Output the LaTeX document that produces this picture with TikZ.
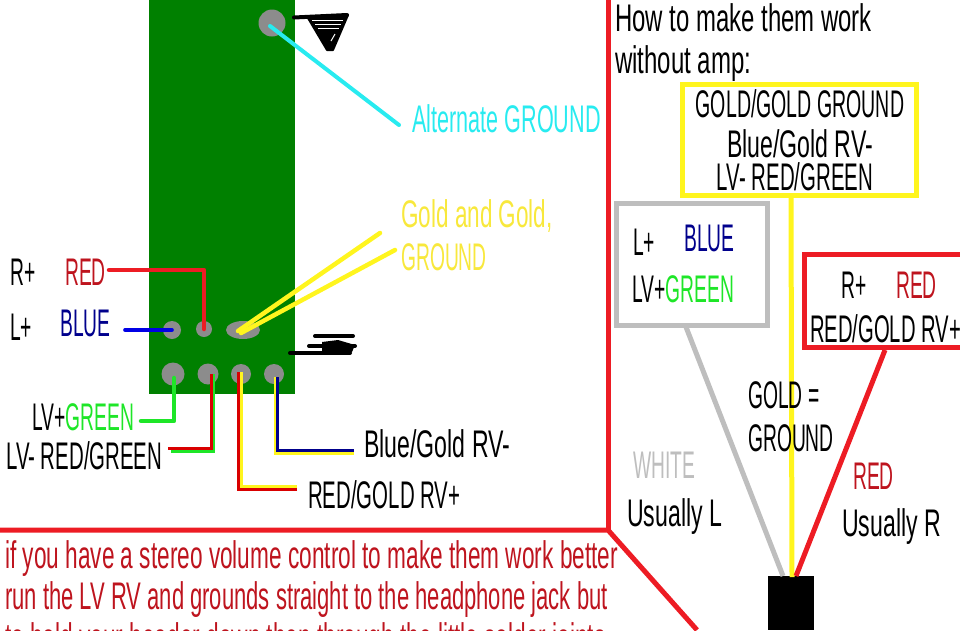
\documentclass[tikz,border=0pt]{standalone}
\usepackage{graphicx}
\usepackage{fontspec}
\usetikzlibrary{shapes.geometric}
\setmainfont[FakeStretch=0.5]{Liberation Sans}
\newfontfamily\lowf[FakeStretch=0.6]{Liberation Sans}
\newcommand{\sx}[2]{\scalebox{#1}[1]{#2}}
\definecolor{pcb}{RGB}{0,128,0}
\definecolor{padg}{RGB}{140,140,140}
\definecolor{rd}{RGB}{237,28,36}
\definecolor{dred}{RGB}{190,20,30}
\definecolor{yel}{RGB}{255,245,30}
\definecolor{gold}{RGB}{248,232,60}
\definecolor{grn}{RGB}{30,230,40}
\definecolor{blu}{RGB}{0,0,140}
\definecolor{lgray}{RGB}{190,190,190}
\definecolor{cya}{RGB}{40,235,240}
\tikzset{x=1pt,y=-1pt,
 lab/.style={anchor=base west,inner sep=0pt,font=\fontsize{38.5}{40}\selectfont},
 low/.style={anchor=base west,inner sep=0pt,font=\fontsize{38.5}{40}\selectfont\lowf},
 pad/.style={circle,fill=padg,inner sep=0pt},
 thick wire/.style={line width=4.5pt,line join=round,line cap=round},
 frame/.style={line width=5pt,line join=miter}}
\begin{document}
\begin{tikzpicture}
\useasboundingbox (0,0) rectangle (960,630);
\clip (0,0) rectangle (960,630);
\fill[pcb] (149,0) rectangle (295,394);
% pads
\node[pad,minimum size=27pt] (pgnd) at (272,23) {};
\node[pad,minimum size=18pt] (pl) at (172,330) {};
\node[pad,minimum size=16pt] (pr) at (204,329) {};
\node[fill=padg,ellipse,inner sep=0pt,minimum width=34pt,minimum height=18pt] (pg) at (243,330) {};
\node[pad,minimum size=23pt] (p1) at (173,374) {};
\node[pad,minimum size=21pt] (p2) at (208,374) {};
\node[pad,minimum size=20pt] (p3) at (241,374) {};
\node[pad,minimum size=20pt] (p4) at (274,374) {};
% ground symbol top
\draw[black,line width=4pt,line cap=round] (294,17.5) -- (347,15);
\fill[black,line join=round,draw=black,line width=2pt] (308,18) -- (348,15) -- (333,50) -- (327,50) -- cycle;
\foreach \yy/\a/\b in {20/312/343,24/315/341,28/318/339}
  \draw[white,line width=1pt] (\a,\yy) -- (\b,\yy);
\draw[white,line width=1pt] (335,34) -- (331,41);
% ground symbol side
\draw[black,line width=4pt,line cap=round] (315,336) -- (353,336);
\draw[black,line width=4pt,line cap=round] (309,346) -- (355,346);
\draw[black,line width=4pt,line cap=round] (290,353) -- (350,353);
\fill[black] (322,342) -- (338,340) -- (355,345) -- (352,352) -- (322,352) -- cycle;
% wires
\coordinate (cy) at (399,125);
\draw[cya,line width=4pt,line cap=round] (270,26) -- (cy);
\coordinate (y1) at (380,233);\coordinate (y2) at (395,250);
\draw[yel,line width=4.5pt,line cap=round] (238,331) -- (y1);
\draw[yel,line width=4.5pt,line cap=round] (241,333) -- (y2);
\coordinate (r0) at (109,270);
\draw[rd,thick wire] (r0) -- (204,270) -- (pr.center);
\coordinate (b0) at (125,330);
\draw[blue!90!black,line width=3.6pt,line cap=round] (b0) -- (pl.center);
\coordinate (g0) at (141,421);
\draw[grn,thick wire] (g0) -- (174,421) -- (174,378);
\coordinate (rg0) at (169,450);
\draw[grn,line width=3pt] (171,451) -- (213,451) -- (213,374);
\draw[red!85!black,line width=3pt] (168,448.5) -- (211,448.5) -- (211,374);
\coordinate (rg1) at (297,488);
\draw[yel,line width=3pt] (297,486) -- (241,486) -- (241,372);
\draw[red!85!black,line width=3pt] (297,489) -- (238.5,489) -- (238.5,372);
\draw[yel,line width=3pt] (354,453) -- (275,453) -- (275,377);
\draw[blu,line width=3pt] (354,450) -- (277.5,450) -- (277.5,377);
% labels left panel
\node[low,text=cya] (t1) at (412,132) {\sx{0.935}{Alternate GROUND}};
\node[low,text=gold] at (401,227) {\sx{0.975}{Gold and Gold,}};
\node[lab,text=gold] at (401,270) {GROUND};
\node[lab] at (10,285) {R+};
\node[lab,text=dred] at (65,285) {RED};
\node[lab] at (10,340) {L+};
\node[lab,text=blu] at (60,336) {BLUE};
\node[lab] at (32,430) {LV+\textcolor{grn}{GREEN}};
\node[lab] at (6,469) {\sx{1.06}{LV- RED/GREEN}};
\node[low] at (364,457) {Blue/Gold RV-};
\node[lab] at (308,508) {\sx{1.06}{RED/GOLD RV+}};
% frame lines
\draw[rd,frame] (608,0) -- (608,530);
\draw[rd,frame] (0,530) -- (608,530) -- (697,630);
% bottom text
\node[low,text=dred] at (5,568) {\sx{0.98}{if you have a stereo volume control to make them work better}};
\node[low,text=dred] at (5,609) {\sx{0.953}{run the LV RV and grounds straight to the headphone jack but}};
\node[low,text=dred] at (5,650) {\sx{0.98}{to hold your header down then through the little solder joints}};
% right panel
\node[low] at (615,31) {\sx{1.036}{How to make them work}};
\node[low] at (615,73) {\sx{1.04}{without amp:}};
\draw[yel,frame] (682.5,84.5) rectangle (916.5,195.5) node[pos=0.5,inner sep=0pt] (yb) {};
\node[lab,anchor=base] at (800,117) {\sx{1.015}{GOLD/GOLD GROUND}};
\node[low,anchor=base] at (800,157) {Blue/Gold RV-};
\node[lab,anchor=base] at (795,190) {\sx{1.06}{LV- RED/GREEN}};
\draw[lgray,frame] (616.5,203.5) rectangle (767.5,325) node[pos=0.5,inner sep=0pt] (gb) {};
\node[lab] at (633,255) {L+};
\node[lab,text=blu] at (684,251) {BLUE};
\node[lab] at (632,302) {LV+\textcolor{grn}{GREEN}};
\draw[rd,frame] (804.5,254.5) rectangle (975,347) node[pos=0.5,inner sep=0pt] (rb) {};
\node[lab] at (841,298) {R+};
\node[lab,text=dred] at (896,298) {RED};
\node[lab] at (810,342) {\sx{1.05}{RED/GOLD RV+}};
% wires to jack
\fill[black] (768,576) rectangle (814,630);
\coordinate (jack) at (791,578);
\draw[lgray,line width=5pt] (686,327) -- (783,576);
\draw[yel,line width=5pt] (791,197) -- (792,577);
\draw[rd,line width=5pt] (885,350) -- (796,576);
% labels
\node[lab] at (748,408) {GOLD =};
\node[lab] at (748,451) {GROUND};
\node[lab,text=lgray] at (633,478) {WHITE};
\node[low] at (627,526) {Usually L};
\node[lab,text=dred] at (853,489) {RED};
\node[low] at (842,536) {Usually R};
\end{tikzpicture}
\end{document}
